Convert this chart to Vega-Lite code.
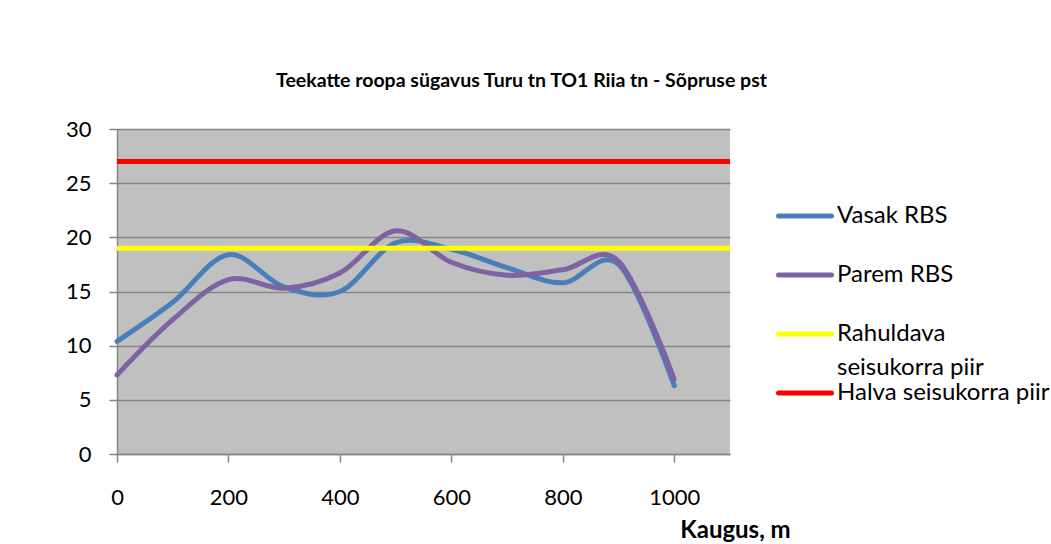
{
  "$schema": "https://vega.github.io/schema/vega-lite/v6.json",
  "autosize": {"type": "none"},
  "padding": {"left": 117, "top": 129, "right": 321, "bottom": 90},
  "width": 613,
  "height": 325,
  "background": "white",
  "title": {
    "text": "Teekatte roopa sügavus Turu tn TO1 Riia tn - Sõpruse pst",
    "font": "Lato",
    "fontSize": 19.5,
    "fontWeight": "bold",
    "color": "black",
    "anchor": "middle",
    "dx": 98,
    "offset": 27
  },
  "datasets": {
    "rbs": [
      {"kaugus": 0, "sugavus": 10.4, "seeria": "Vasak RBS"},
      {"kaugus": 100, "sugavus": 14.0, "seeria": "Vasak RBS"},
      {"kaugus": 200, "sugavus": 18.4, "seeria": "Vasak RBS"},
      {"kaugus": 300, "sugavus": 15.4, "seeria": "Vasak RBS"},
      {"kaugus": 400, "sugavus": 15.0, "seeria": "Vasak RBS"},
      {"kaugus": 500, "sugavus": 19.5, "seeria": "Vasak RBS"},
      {"kaugus": 600, "sugavus": 18.9, "seeria": "Vasak RBS"},
      {"kaugus": 700, "sugavus": 17.2, "seeria": "Vasak RBS"},
      {"kaugus": 800, "sugavus": 15.8, "seeria": "Vasak RBS"},
      {"kaugus": 900, "sugavus": 17.5, "seeria": "Vasak RBS"},
      {"kaugus": 1000, "sugavus": 6.3, "seeria": "Vasak RBS"},
      {"kaugus": 0, "sugavus": 7.3, "seeria": "Parem RBS"},
      {"kaugus": 100, "sugavus": 12.4, "seeria": "Parem RBS"},
      {"kaugus": 200, "sugavus": 16.1, "seeria": "Parem RBS"},
      {"kaugus": 300, "sugavus": 15.3, "seeria": "Parem RBS"},
      {"kaugus": 400, "sugavus": 16.7, "seeria": "Parem RBS"},
      {"kaugus": 500, "sugavus": 20.6, "seeria": "Parem RBS"},
      {"kaugus": 600, "sugavus": 17.7, "seeria": "Parem RBS"},
      {"kaugus": 700, "sugavus": 16.5, "seeria": "Parem RBS"},
      {"kaugus": 800, "sugavus": 17.0, "seeria": "Parem RBS"},
      {"kaugus": 900, "sugavus": 17.8, "seeria": "Parem RBS"},
      {"kaugus": 1000, "sugavus": 6.9, "seeria": "Parem RBS"}
    ],
    "piirid": [
      {"kaugus": 0, "sugavus": 19, "seeria": "Rahuldava seisukorra piir"},
      {"kaugus": 1100, "sugavus": 19, "seeria": "Rahuldava seisukorra piir"},
      {"kaugus": 0, "sugavus": 27, "seeria": "Halva seisukorra piir"},
      {"kaugus": 1100, "sugavus": 27, "seeria": "Halva seisukorra piir"}
    ]
  },
  "encoding": {
    "x": {
      "field": "kaugus",
      "type": "quantitative",
      "scale": {"domain": [0, 1100], "nice": false},
      "axis": {
        "values": [0, 200, 400, 600, 800, 1000],
        "format": "d",
        "grid": false,
        "title": "Kaugus, m",
        "titleFont": "Lato",
        "titleFontSize": 24,
        "titleFontWeight": "bold",
        "titleColor": "black",
        "titleAlign": "center",
        "titleBaseline": "middle",
        "titleAnchor": null,
        "titleX": 618,
        "titleY": 76,
        "labelFont": "Lato",
        "labelFontSize": 22,
        "labelColor": "black",
        "labelPadding": 25,
        "labelFlush": false,
        "tickSize": 8,
        "tickColor": "#868686",
        "tickWidth": 1.5,
        "domainColor": "#868686",
        "domainWidth": 1.5
      }
    },
    "y": {
      "field": "sugavus",
      "type": "quantitative",
      "scale": {"domain": [0, 30], "nice": false},
      "axis": {
        "values": [0, 5, 10, 15, 20, 25, 30],
        "title": null,
        "grid": true,
        "gridColor": "#868686",
        "gridWidth": 1.5,
        "labelFont": "Lato",
        "labelFontSize": 22,
        "labelColor": "black",
        "labelPadding": 18,
        "labelFlush": false,
        "tickSize": 8,
        "tickColor": "#868686",
        "tickWidth": 1.5,
        "domainColor": "#868686",
        "domainWidth": 1.5
      }
    },
    "color": {
      "field": "seeria",
      "type": "nominal",
      "scale": {
        "domain": ["Vasak RBS", "Parem RBS", "Rahuldava seisukorra piir", "Halva seisukorra piir"],
        "range": ["#4a7ebb", "#7e62a1", "#ffff00", "#ff0000"]
      },
      "legend": {
        "title": null,
        "orient": "none",
        "legendX": 659,
        "legendY": 75,
        "padding": 0,
        "symbolType": "stroke",
        "symbolSize": 2809,
        "symbolStrokeWidth": 5,
        "clipHeight": 59,
        "labelFont": "Lato",
        "labelFontSize": 24,
        "labelColor": "black",
        "labelOffset": 3,
        "labelLimit": 400,
        "rowPadding": 0,
        "labelExpr": "datum.label == 'Rahuldava seisukorra piir' ? ['Rahuldava', 'seisukorra piir'] : datum.label",
        "encode": {
          "symbols": {"update": {"strokeCap": {"value": "round"}, "y": {"value": 12}}},
          "labels": {"update": {"lineHeight": {"value": 34}, "y": {"value": 12}}}
        }
      }
    }
  },
  "layer": [
    {
      "data": {"name": "rbs"},
      "mark": {"type": "line", "interpolate": "cardinal", "strokeWidth": 5, "strokeCap": "round", "clip": false}
    },
    {
      "data": {"name": "piirid"},
      "mark": {"type": "line", "strokeWidth": 5, "strokeCap": "butt", "clip": false}
    }
  ],
  "config": {
    "view": {"fill": "#c0c0c0", "stroke": null},
    "font": "Lato"
  }
}
